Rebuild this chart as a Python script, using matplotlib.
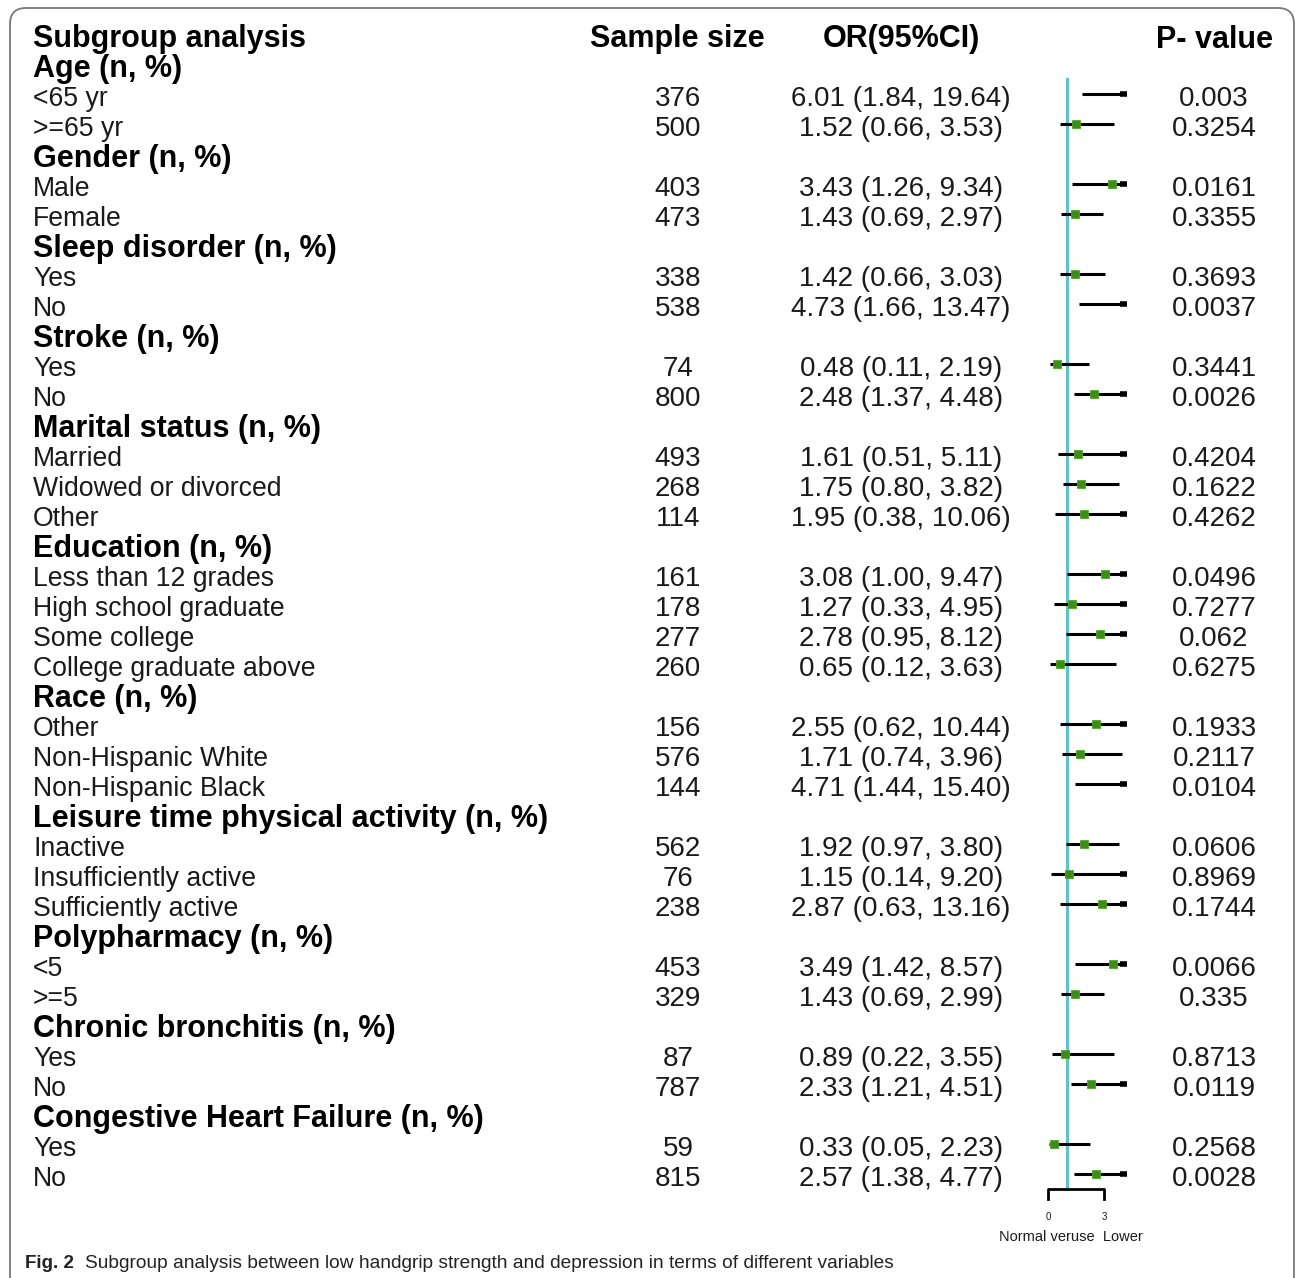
import matplotlib
matplotlib.use("Agg")
import matplotlib.pyplot as plt
from matplotlib.patches import FancyBboxPatch

# ---- data ---------------------------------------------------------------
groups = [
    "Age (n, %)", "Gender (n, %)", "Sleep disorder (n, %)", "Stroke (n, %)",
    "Marital status (n, %)", "Education (n, %)", "Race (n, %)",
    "Leisure time physical activity (n, %)", "Polypharmacy (n, %)",
    "Chronic bronchitis (n, %)", "Congestive Heart Failure (n, %)",
]
subgroups = [
    ["<65 yr", ">=65 yr"],
    ["Male", "Female"],
    ["Yes", "No"],
    ["Yes", "No"],
    ["Married", "Widowed or divorced", "Other"],
    ["Less than 12 grades", "High school graduate", "Some college",
     "College graduate above"],
    ["Other", "Non-Hispanic White", "Non-Hispanic Black"],
    ["Inactive", "Insufficiently active", "Sufficiently active"],
    ["<5", ">=5"],
    ["Yes", "No"],
    ["Yes", "No"],
]
sample_size = [376, 500, 403, 473, 338, 538, 74, 800, 493, 268, 114,
               161, 178, 277, 260, 156, 576, 144, 562, 76, 238, 453, 329,
               87, 787, 59, 815]
odds_ratio = [6.01, 1.52, 3.43, 1.43, 1.42, 4.73, 0.48, 2.48, 1.61, 1.75,
              1.95, 3.08, 1.27, 2.78, 0.65, 2.55, 1.71, 4.71, 1.92, 1.15,
              2.87, 3.49, 1.43, 0.89, 2.33, 0.33, 2.57]
ci_low = [1.84, 0.66, 1.26, 0.69, 0.66, 1.66, 0.11, 1.37, 0.51, 0.80, 0.38,
          1.00, 0.33, 0.95, 0.12, 0.62, 0.74, 1.44, 0.97, 0.14, 0.63, 1.42,
          0.69, 0.22, 1.21, 0.05, 1.38]
ci_high = [19.64, 3.53, 9.34, 2.97, 3.03, 13.47, 2.19, 4.48, 5.11, 3.82,
           10.06, 9.47, 4.95, 8.12, 3.63, 10.44, 3.96, 15.40, 3.80, 9.20,
           13.16, 8.57, 2.99, 3.55, 4.51, 2.23, 4.77]
p_values = ["0.003", "0.3254", "0.0161", "0.3355", "0.3693", "0.0037",
            "0.3441", "0.0026", "0.4204", "0.1622", "0.4262", "0.0496",
            "0.7277", "0.062", "0.6275", "0.1933", "0.2117", "0.0104",
            "0.0606", "0.8969", "0.1744", "0.0066", "0.335", "0.8713",
            "0.0119", "0.2568", "0.0028"]
headers = ["Subgroup analysis", "Sample size", "OR(95%CI)", "P- value"]
axis_ticks = [0, 3]
axis_label = "Normal veruse  Lower"
caption_bold = "Fig. 2"
caption = "Subgroup analysis between low handgrip strength and depression in terms of different variables"
ref_value = 1

# ---- layout -------------------------------------------------------------
W, H = 1295, 1278
fig = plt.figure(figsize=(W / 100, H / 100), dpi=100)
base = fig.add_axes([0, 0, 1, 1])
base.set_xlim(0, W)
base.set_ylim(H, 0)
base.axis("off")

FONT = ["Liberation Sans", "DejaVu Sans"]
ROW0, DY = 37, 30.0
TXT_DY = 2.5
X_LABEL, X_N, X_OR, X_P = 33, 678, 901, 1214
FS_LBL, FS_NUM, FS_BOLD = 19.2, 20.0, 22.0
TXT = "#1a1a1a"

# forest axes: OR 0 -> px 1048, OR 3 -> px 1104
px_per = (1104 - 1048) / 3.0
x_lo, x_hi = -0.12, 4.22
fl = 1048 + x_lo * px_per
fr = 1048 + x_hi * px_per
fax = fig.add_axes([fl / W, 0, (fr - fl) / W, 1])
fax.set_xlim(x_lo, x_hi)
fax.set_ylim(H, 0)
fax.axis("off")
fax.patch.set_alpha(0)

# header row
hdr_x = [X_LABEL, X_N - 1, X_OR, 1273]
hdr_ha = ["left", "center", "center", "right"]
for txt, x, ha in zip(headers, hdr_x, hdr_ha):
    base.text(x, ROW0 + TXT_DY, txt, fontsize=FS_BOLD, fontweight="bold",
              family=FONT, ha=ha, va="center", color="black")

row = 1
k = 0
first_row_y = None
last_row_y = None
for g, subs in zip(groups, subgroups):
    y = ROW0 + DY * row
    base.text(X_LABEL, y + TXT_DY, g, fontsize=FS_BOLD, fontweight="bold",
              family=FONT, ha="left", va="center", color="black")
    row += 1
    for s in subs:
        y = ROW0 + DY * row
        ty = y + TXT_DY
        base.text(X_LABEL, ty, s, fontsize=FS_LBL, family=FONT, ha="left",
                  va="center", color=TXT)
        base.text(X_N, ty, str(sample_size[k]), fontsize=FS_NUM, family=FONT,
                  ha="center", va="center", color=TXT)
        base.text(X_OR, ty, f"{odds_ratio[k]:.2f} ({ci_low[k]:.2f}, {ci_high[k]:.2f})",
                  fontsize=FS_NUM, family=FONT, ha="center", va="center", color=TXT)
        base.text(X_P, ty, p_values[k], fontsize=FS_NUM, family=FONT,
                  ha="center", va="center", color=TXT)

        ly = y - 3
        lo = max(ci_low[k], x_lo)
        hi = min(ci_high[k], x_hi)
        fax.plot([lo, hi], [ly, ly], color="black", lw=2.2,
                 solid_capstyle="butt", zorder=3)
        if ci_high[k] > x_hi:
            fax.plot([x_hi - 0.38, x_hi], [ly, ly], color="black", lw=4.0,
                     solid_capstyle="butt", zorder=3)
        if x_lo <= odds_ratio[k] <= x_hi:
            fax.plot(odds_ratio[k], ly, marker="s", ms=6.2, color="#3d8c1c",
                     mec="#4fa52a", mew=0.6, zorder=4)
        if first_row_y is None:
            first_row_y = ly
        last_row_y = ly
        k += 1
        row += 1

# reference line and axis bracket
axis_y = last_row_y + 15
fax.plot([ref_value, ref_value], [first_row_y - 15, axis_y], color="#62c2cb",
         lw=2.3, zorder=2)
fax.plot([axis_ticks[0], axis_ticks[0], axis_ticks[-1], axis_ticks[-1]],
         [axis_y + 10, axis_y, axis_y, axis_y + 10], color="black", lw=2.0,
         zorder=3)
for t in axis_ticks:
    fax.text(t, axis_y + 28, str(t), fontsize=7, family=FONT, ha="center",
             va="center", color=TXT)
base.text(1071, axis_y + 48, axis_label, fontsize=10.5, family=FONT,
          ha="center", va="center", color=TXT)

# caption
base.text(25, 1263, caption_bold, fontsize=13.5, fontweight="bold",
          family=FONT, ha="left", va="center", color="#222222")
base.text(85, 1263, caption, fontsize=13.8, family=FONT, ha="left",
          va="center", color="#222222")

# rounded frame around the figure panel
frame = FancyBboxPatch((10, 8), 1284, 1320, boxstyle="round,pad=0,rounding_size=16",
                       fill=False, ec="#777777", lw=1.3, zorder=1)
base.add_patch(frame)

fig.savefig("out.png", dpi=100)
